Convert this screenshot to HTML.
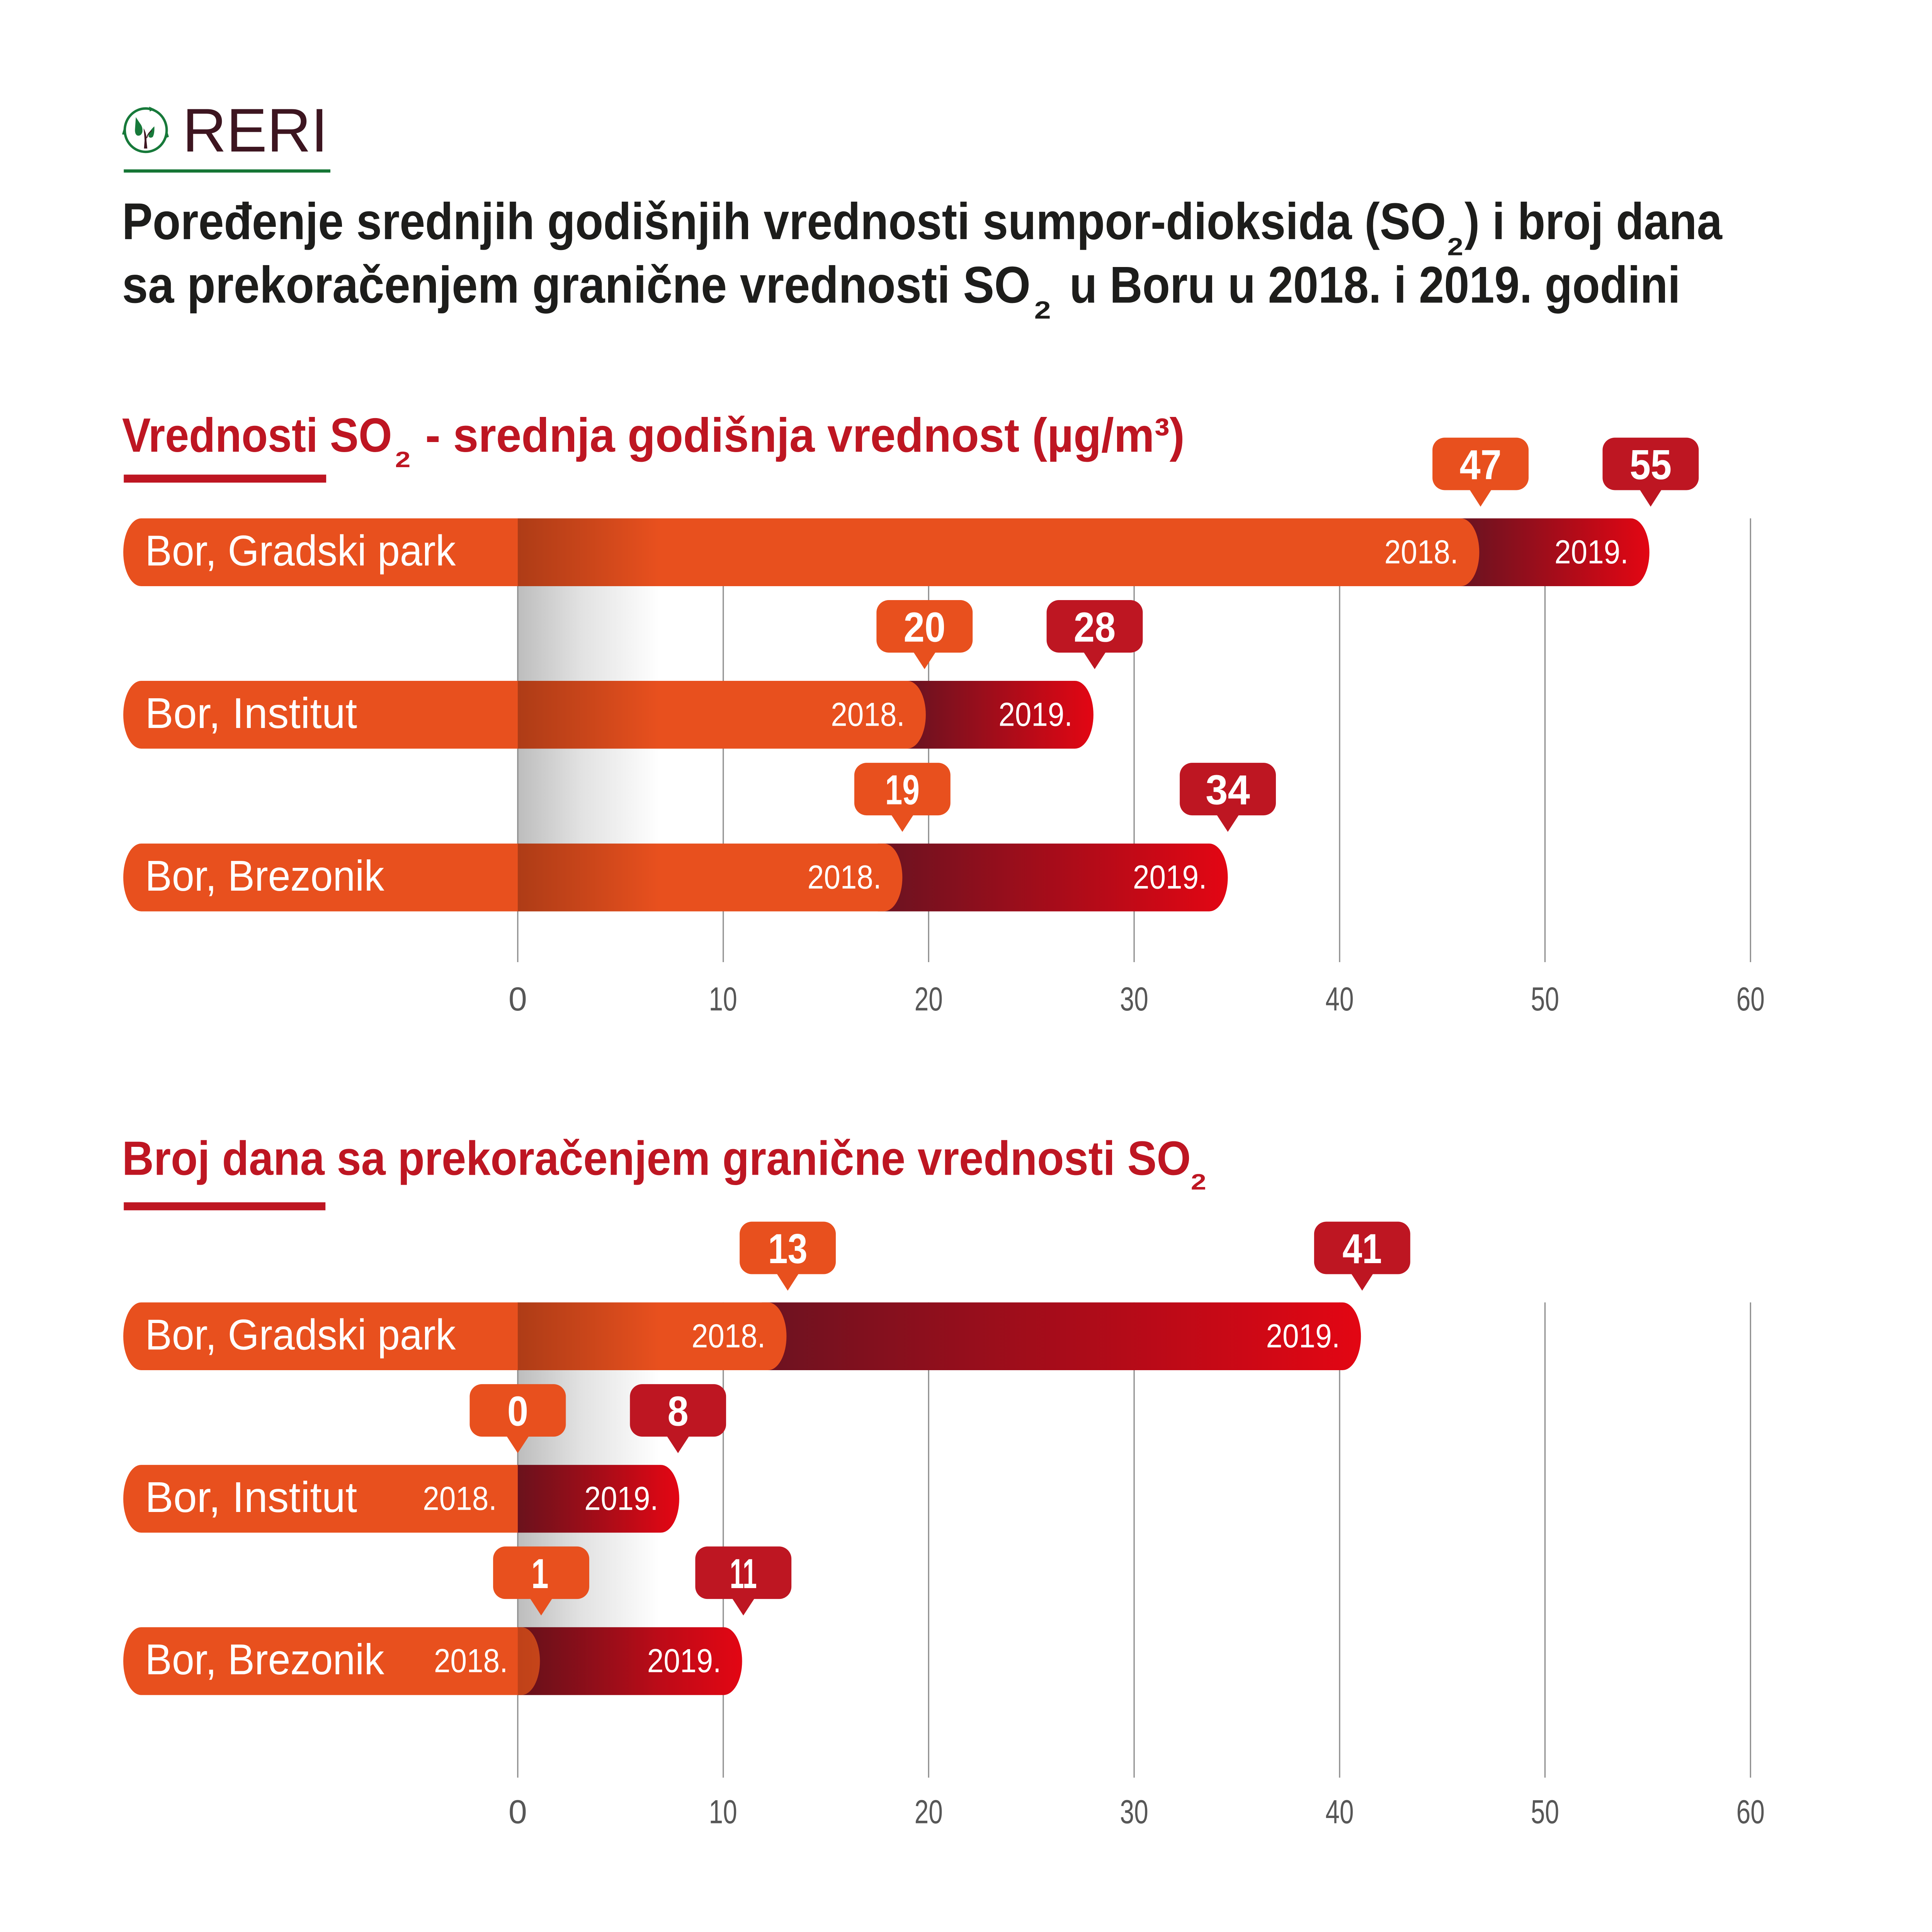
<!DOCTYPE html>
<html>
<head>
<meta charset="utf-8">
<style>
html,body{margin:0;padding:0;background:#ffffff;width:5079px;height:5079px;overflow:hidden;}
svg{display:block;}
</style>
</head>
<body>
<svg xmlns="http://www.w3.org/2000/svg" width="5079" height="5079" viewBox="0 0 1592 1592" font-family="'Liberation Sans', sans-serif">
<defs>
  <linearGradient id="gray" x1="0" y1="0" x2="1" y2="0">
    <stop offset="0" stop-color="#bdbdbd"/>
    <stop offset="0.45" stop-color="#e2e2e2"/>
    <stop offset="1" stop-color="#ffffff"/>
  </linearGradient>
  <linearGradient id="shade" x1="0" y1="0" x2="1" y2="0">
    <stop offset="0" stop-color="#000" stop-opacity="0.25"/>
    <stop offset="0.5" stop-color="#000" stop-opacity="0.13"/>
    <stop offset="1" stop-color="#000" stop-opacity="0"/>
  </linearGradient>
  <linearGradient id="gA" gradientUnits="userSpaceOnUse" x1="1195" y1="0" x2="1338" y2="0"><stop offset="0" stop-color="#701220"/><stop offset="1" stop-color="#e30613"/></linearGradient>
  <linearGradient id="gB" gradientUnits="userSpaceOnUse" x1="746" y1="0" x2="887" y2="0"><stop offset="0" stop-color="#701220"/><stop offset="1" stop-color="#e30613"/></linearGradient>
  <linearGradient id="gC" gradientUnits="userSpaceOnUse" x1="727" y1="0" x2="996" y2="0"><stop offset="0" stop-color="#701220"/><stop offset="1" stop-color="#e30613"/></linearGradient>
  <linearGradient id="gD" gradientUnits="userSpaceOnUse" x1="633" y1="0" x2="1104" y2="0"><stop offset="0" stop-color="#701220"/><stop offset="1" stop-color="#e30613"/></linearGradient>
  <linearGradient id="gE" gradientUnits="userSpaceOnUse" x1="420" y1="0" x2="551" y2="0"><stop offset="0" stop-color="#7a1420"/><stop offset="1" stop-color="#e30613"/></linearGradient>
  <linearGradient id="gF" gradientUnits="userSpaceOnUse" x1="420" y1="0" x2="602" y2="0"><stop offset="0" stop-color="#7a1420"/><stop offset="1" stop-color="#e30613"/></linearGradient>
</defs>

<!-- LOGO -->
<ellipse cx="118.2" cy="105.6" rx="17" ry="17.6" fill="none" stroke="#17793a" stroke-width="2"/>
<path d="M121 86.5 L125.5 88.5 L121.5 90.5 Z" fill="#17793a"/>
<path d="M100.5 104 L102.5 109.5 L99 109 Z" fill="#17793a"/>
<path d="M135.8 107 L134.5 112 L137 111 Z" fill="#17793a"/>
<path d="M110.2 95 L113.5 100 Q116 103 115.5 107 Q114.5 110.5 111.5 110 Q109.3 109 109.5 105 Z" fill="#17793a"/>
<path d="M125.2 102.5 Q125.5 108 124 111 Q122 112.5 120.5 110.8 Q120.2 107 125.2 102.5 Z" fill="#17793a"/>
<path d="M116.4 104 Q119 108 118.8 114 L119.5 120.5 L116.8 120.5 L117.3 114 Q117 108 116.4 104 Z" fill="#3d1520"/>
<path d="M119 112 Q120 108 123 106" stroke="#3d1520" stroke-width="0.8" fill="none"/>
<text x="148" y="122.9" font-size="50" fill="#3d1520" textLength="118" lengthAdjust="spacingAndGlyphs">RERI</text>
<rect x="100.4" y="137.4" width="167.6" height="2.6" fill="#147534"/>

<!-- TITLE -->
<g font-weight="bold" fill="#1d1d1b">
  <text x="99" y="194" font-size="42" textLength="1074" lengthAdjust="spacingAndGlyphs">Poređenje srednjih godišnjih vrednosti sumpor-dioksida (SO</text>
  <text x="1174" y="207" font-size="20" textLength="13" lengthAdjust="spacingAndGlyphs">2</text>
  <text x="1188" y="194" font-size="42" textLength="209" lengthAdjust="spacingAndGlyphs">) i broj dana</text>
  <text x="99" y="245.5" font-size="42" textLength="737" lengthAdjust="spacingAndGlyphs">sa prekoračenjem granične vrednosti SO</text>
  <text x="839" y="258.5" font-size="20" textLength="13.5" lengthAdjust="spacingAndGlyphs">2</text>
  <text x="867.6" y="245.5" font-size="42" textLength="495.5" lengthAdjust="spacingAndGlyphs">u Boru u 2018. i 2019. godini</text>
</g>

<!-- SECTION 1 HEADING -->
<g font-weight="bold" fill="#be1622">
  <text x="99" y="366.4" font-size="39" textLength="219" lengthAdjust="spacingAndGlyphs">Vrednosti SO</text>
  <text x="320.5" y="379" font-size="18" textLength="12.5" lengthAdjust="spacingAndGlyphs">2</text>
  <text x="345" y="366.4" font-size="39" textLength="616" lengthAdjust="spacingAndGlyphs">- srednja godišnja vrednost (µg/m³)</text>
</g>
<rect x="100.4" y="385" width="164.2" height="6.5" fill="#be1622"/>

<!-- SECTION 2 HEADING -->
<g font-weight="bold" fill="#be1622">
  <text x="99" y="953" font-size="39" textLength="867" lengthAdjust="spacingAndGlyphs">Broj dana sa prekoračenjem granične vrednosti SO</text>
  <text x="966" y="965" font-size="18" textLength="12.5" lengthAdjust="spacingAndGlyphs">2</text>
</g>
<rect x="100.4" y="975.3" width="163.6" height="6.5" fill="#be1622"/>

<!-- GRAY BACKGROUND GRADIENTS -->
<rect x="420" y="420.5" width="115" height="318.8" fill="url(#gray)"/>
<rect x="420" y="1056.5" width="115" height="318.5" fill="url(#gray)"/>

<!-- GRIDLINES -->
<g stroke="#8c8c8c" stroke-width="1">
  <line x1="420" y1="420.5" x2="420" y2="780.5"/>
  <line x1="586.7" y1="420.5" x2="586.7" y2="780.5"/>
  <line x1="753.3" y1="420.5" x2="753.3" y2="780.5"/>
  <line x1="920" y1="420.5" x2="920" y2="780.5"/>
  <line x1="1086.7" y1="420.5" x2="1086.7" y2="780.5"/>
  <line x1="1253.3" y1="420.5" x2="1253.3" y2="780.5"/>
  <line x1="1420" y1="420.5" x2="1420" y2="780.5"/>
  <line x1="420" y1="1056.5" x2="420" y2="1442"/>
  <line x1="586.7" y1="1056.5" x2="586.7" y2="1442"/>
  <line x1="753.3" y1="1056.5" x2="753.3" y2="1442"/>
  <line x1="920" y1="1056.5" x2="920" y2="1442"/>
  <line x1="1086.7" y1="1056.5" x2="1086.7" y2="1442"/>
  <line x1="1253.3" y1="1056.5" x2="1253.3" y2="1442"/>
  <line x1="1420" y1="1056.5" x2="1420" y2="1442"/>
</g>

<!-- TICK LABELS -->
<g font-size="27" fill="#575757">
  <text x="412.5" y="819.7">0</text>
  <text x="575" y="819.7" textLength="23" lengthAdjust="spacingAndGlyphs">10</text>
  <text x="741.8" y="819.7" textLength="23" lengthAdjust="spacingAndGlyphs">20</text>
  <text x="908.5" y="819.7" textLength="23" lengthAdjust="spacingAndGlyphs">30</text>
  <text x="1075.2" y="819.7" textLength="23" lengthAdjust="spacingAndGlyphs">40</text>
  <text x="1241.8" y="819.7" textLength="23" lengthAdjust="spacingAndGlyphs">50</text>
  <text x="1408.5" y="819.7" textLength="23" lengthAdjust="spacingAndGlyphs">60</text>
  <text x="412.5" y="1479">0</text>
  <text x="575" y="1479" textLength="23" lengthAdjust="spacingAndGlyphs">10</text>
  <text x="741.8" y="1479" textLength="23" lengthAdjust="spacingAndGlyphs">20</text>
  <text x="908.5" y="1479" textLength="23" lengthAdjust="spacingAndGlyphs">30</text>
  <text x="1075.2" y="1479" textLength="23" lengthAdjust="spacingAndGlyphs">40</text>
  <text x="1241.8" y="1479" textLength="23" lengthAdjust="spacingAndGlyphs">50</text>
  <text x="1408.5" y="1479" textLength="23" lengthAdjust="spacingAndGlyphs">60</text>
</g>

<!-- ===== BARS SECTION 1 ===== -->
<path d="M1180 420.5 H1323 A15 27.5 0 0 1 1323 475.5 H1180 Z" fill="url(#gA)"/>
<path d="M114.5 420.5 H1185 A15 27.5 0 0 1 1185 475.5 H114.5 A14.5 27.5 0 0 1 114.5 420.5 Z" fill="#e8501e"/>
<rect x="420" y="420.5" width="115" height="55" fill="url(#shade)"/>

<path d="M731 552.3 H872 A15 27.5 0 0 1 872 607.3 H731 Z" fill="url(#gB)"/>
<path d="M114.5 552.3 H736 A15 27.5 0 0 1 736 607.3 H114.5 A14.5 27.5 0 0 1 114.5 552.3 Z" fill="#e8501e"/>
<rect x="420" y="552.3" width="115" height="55" fill="url(#shade)"/>

<path d="M712 684.3 H981 A15 27.5 0 0 1 981 739.3 H712 Z" fill="url(#gC)"/>
<path d="M114.5 684.3 H717 A15 27.5 0 0 1 717 739.3 H114.5 A14.5 27.5 0 0 1 114.5 684.3 Z" fill="#e8501e"/>
<rect x="420" y="684.3" width="115" height="55" fill="url(#shade)"/>

<!-- ===== BARS SECTION 2 ===== -->
<path d="M618 1056.5 H1089 A15 27.5 0 0 1 1089 1111.5 H618 Z" fill="url(#gD)"/>
<path d="M114.5 1056.5 H623 A15 27.5 0 0 1 623 1111.5 H114.5 A14.5 27.5 0 0 1 114.5 1056.5 Z" fill="#e8501e"/>
<rect x="420" y="1056.5" width="115" height="55" fill="url(#shade)"/>

<path d="M420 1188.3 H536 A15 27.5 0 0 1 536 1243.3 H420 Z" fill="url(#gE)"/>
<path d="M114.5 1188.3 H420 V1243.3 H114.5 A14.5 27.5 0 0 1 114.5 1188.3 Z" fill="#e8501e"/>
<rect x="420" y="1188.3" width="115" height="55" fill="url(#shade)" opacity="0.5"/>

<path d="M420 1320 H587 A15 27.5 0 0 1 587 1375 H420 Z" fill="url(#gF)"/>
<path d="M114.5 1320 H423 A15 27.5 0 0 1 423 1375 H114.5 A14.5 27.5 0 0 1 114.5 1320 Z" fill="#e8501e"/>
<rect x="420" y="1320" width="115" height="55" fill="url(#shade)" opacity="0.7"/>

<!-- BAR NAME LABELS -->
<g font-size="35" fill="#ffffff">
  <text x="117.7" y="458.7" textLength="252" lengthAdjust="spacingAndGlyphs">Bor, Gradski park</text>
  <text x="117.7" y="590.5" textLength="172" lengthAdjust="spacingAndGlyphs">Bor, Institut</text>
  <text x="117.7" y="722.5" textLength="194" lengthAdjust="spacingAndGlyphs">Bor, Brezonik</text>
  <text x="117.7" y="1094.7" textLength="252" lengthAdjust="spacingAndGlyphs">Bor, Gradski park</text>
  <text x="117.7" y="1226.5" textLength="172" lengthAdjust="spacingAndGlyphs">Bor, Institut</text>
  <text x="117.7" y="1358.2" textLength="194" lengthAdjust="spacingAndGlyphs">Bor, Brezonik</text>
</g>

<!-- YEAR LABELS -->
<g font-size="27" fill="#ffffff">
  <text x="1123" y="457" textLength="60" lengthAdjust="spacingAndGlyphs">2018.</text>
  <text x="1261" y="457" textLength="60" lengthAdjust="spacingAndGlyphs">2019.</text>
  <text x="674" y="588.8" textLength="60" lengthAdjust="spacingAndGlyphs">2018.</text>
  <text x="810" y="588.8" textLength="60" lengthAdjust="spacingAndGlyphs">2019.</text>
  <text x="655" y="720.8" textLength="60" lengthAdjust="spacingAndGlyphs">2018.</text>
  <text x="919" y="720.8" textLength="60" lengthAdjust="spacingAndGlyphs">2019.</text>
  <text x="561" y="1093" textLength="60" lengthAdjust="spacingAndGlyphs">2018.</text>
  <text x="1027" y="1093" textLength="60" lengthAdjust="spacingAndGlyphs">2019.</text>
  <text x="343" y="1224.8" textLength="60" lengthAdjust="spacingAndGlyphs">2018.</text>
  <text x="474" y="1224.8" textLength="60" lengthAdjust="spacingAndGlyphs">2019.</text>
  <text x="352" y="1356.5" textLength="60" lengthAdjust="spacingAndGlyphs">2018.</text>
  <text x="525" y="1356.5" textLength="60" lengthAdjust="spacingAndGlyphs">2019.</text>
</g>

<!-- BUBBLES -->
<rect x="1162" y="355" width="78" height="42.6" rx="10" fill="#e8501e"/>
<path d="M1192 397 L1210 397 L1201 411 Z" fill="#e8501e"/>
<rect x="1300" y="355" width="78" height="42.6" rx="10" fill="#be1622"/>
<path d="M1330 397 L1348 397 L1339 411 Z" fill="#be1622"/>

<rect x="711" y="486.8" width="78" height="42.6" rx="10" fill="#e8501e"/>
<path d="M741 529 L759 529 L750 542.8 Z" fill="#e8501e"/>
<rect x="849" y="486.8" width="78" height="42.6" rx="10" fill="#be1622"/>
<path d="M879 529 L897 529 L888 542.8 Z" fill="#be1622"/>

<rect x="693" y="618.8" width="78" height="42.6" rx="10" fill="#e8501e"/>
<path d="M723 661 L741 661 L732 674.8 Z" fill="#e8501e"/>
<rect x="957" y="618.8" width="78" height="42.6" rx="10" fill="#be1622"/>
<path d="M987 661 L1005 661 L996 674.8 Z" fill="#be1622"/>

<rect x="600" y="991" width="78" height="42.6" rx="10" fill="#e8501e"/>
<path d="M630 1033 L648 1033 L639 1047 Z" fill="#e8501e"/>
<rect x="1066" y="991" width="78" height="42.6" rx="10" fill="#be1622"/>
<path d="M1096 1033 L1114 1033 L1105 1047 Z" fill="#be1622"/>

<rect x="381" y="1122.8" width="78" height="42.6" rx="10" fill="#e8501e"/>
<path d="M411 1165 L429 1165 L420 1178.8 Z" fill="#e8501e"/>
<rect x="511" y="1122.8" width="78" height="42.6" rx="10" fill="#be1622"/>
<path d="M541 1165 L559 1165 L550 1178.8 Z" fill="#be1622"/>

<rect x="400" y="1254.5" width="78" height="42.6" rx="10" fill="#e8501e"/>
<path d="M430 1296.7 L448 1296.7 L439 1310.5 Z" fill="#e8501e"/>
<rect x="564" y="1254.5" width="78" height="42.6" rx="10" fill="#be1622"/>
<path d="M594 1296.7 L612 1296.7 L603 1310.5 Z" fill="#be1622"/>

<!-- BUBBLE NUMBERS -->
<g font-size="34" font-weight="bold" fill="#ffffff">
  <text x="1184" y="388.7" textLength="34" lengthAdjust="spacingAndGlyphs">47</text>
  <text x="1322" y="388.7" textLength="34" lengthAdjust="spacingAndGlyphs">55</text>
  <text x="733" y="520.5" textLength="34" lengthAdjust="spacingAndGlyphs">20</text>
  <text x="871" y="520.5" textLength="34" lengthAdjust="spacingAndGlyphs">28</text>
  <text x="718" y="652.5" textLength="28" lengthAdjust="spacingAndGlyphs">19</text>
  <text x="978" y="652.5" textLength="36" lengthAdjust="spacingAndGlyphs">34</text>
  <text x="623" y="1024.7" textLength="32" lengthAdjust="spacingAndGlyphs">13</text>
  <text x="1089" y="1024.7" textLength="32" lengthAdjust="spacingAndGlyphs">41</text>
  <text x="411.5" y="1156.5" textLength="17" lengthAdjust="spacingAndGlyphs">0</text>
  <text x="541.5" y="1156.5" textLength="17" lengthAdjust="spacingAndGlyphs">8</text>
  <text x="431" y="1288.2" textLength="14" lengthAdjust="spacingAndGlyphs">1</text>
  <text x="592" y="1288.2" textLength="22" lengthAdjust="spacingAndGlyphs">11</text>
</g>
</svg>
</body>
</html>
